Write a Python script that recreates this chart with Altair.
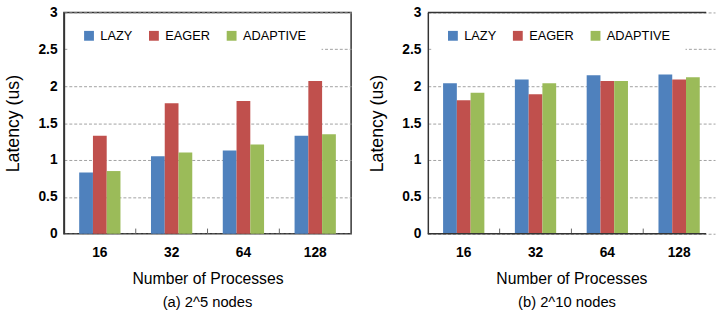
import altair as alt
import pandas as pd

processes = ["16", "32", "64", "128"]
series = ["LAZY", "EAGER", "ADAPTIVE"]
colors = ["#4F81BD", "#C0504D", "#9BBB59"]

# (a) 2^5 nodes
a_lazy = [0.83, 1.05, 1.13, 1.33]
a_eager = [1.33, 1.77, 1.80, 2.07]
a_adaptive = [0.85, 1.10, 1.21, 1.35]

# (b) 2^10 nodes
b_lazy = [2.04, 2.09, 2.15, 2.16]
b_eager = [1.81, 1.89, 2.07, 2.09]
b_adaptive = [1.91, 2.04, 2.07, 2.12]

y_ticks = [0, 0.5, 1, 1.5, 2, 2.5, 3]
border_levels = [0, 3]

FONT = "Liberation Sans"
BORDER = "#333333"


def make_df(lazy, eager, adaptive):
    rows = []
    for name, vals in zip(series, [lazy, eager, adaptive]):
        for p, v in zip(processes, vals):
            rows.append({"proc": p, "series": name, "latency": v})
    return pd.DataFrame(rows)


X_AXIS = alt.Axis(title="Number of Processes", labelAngle=0,
                  ticks=False, domain=False, labelPadding=12,
                  labelFont=FONT, labelFontSize=14, labelFontWeight="bold",
                  labelColor="#000", titleFont=FONT, titleFontSize=16,
                  titleFontWeight="normal", titleColor="#000",
                  titlePadding=12)
Y_AXIS = alt.Axis(title="Latency (us)", values=y_ticks, format=".2~f",
                  ticks=False, domain=True, domainColor=BORDER,
                  domainWidth=1.5, labelPadding=7,
                  grid=True, gridColor="#A0A0A0", gridDash=[3, 2],
                  gridWidth=1, labelOverlap=False,
                  labelFont=FONT, labelFontSize=14, labelFontWeight="bold",
                  labelColor="#000", titleFont=FONT, titleFontSize=18,
                  titleFontWeight="normal", titleColor="#000",
                  titlePadding=16)
X_SCALE = alt.Scale(paddingInner=0.425, paddingOuter=0.2125, range=[0, 292])
Y_SCALE = alt.Scale(domain=[0, 3], nice=False)


def panel(df, subtitle, width, full_border):
    base = alt.Chart(df)
    bars = base.mark_bar().encode(
        x=alt.X("proc:N", sort=processes, scale=X_SCALE, axis=X_AXIS),
        xOffset=alt.XOffset("series:N", sort=series),
        y=alt.Y("latency:Q", scale=Y_SCALE, axis=Y_AXIS),
        color=alt.Color("series:N", sort=series,
                        scale=alt.Scale(domain=series, range=colors),
                        legend=alt.Legend(title=None, orient="none", direction="horizontal",
                                          legendX=4, legendY=2, padding=15,
                                          fillColor="white", symbolType="square",
                                          symbolSize=100, symbolStrokeWidth=0,
                                          symbolOpacity=1, labelOffset=5,
                                          columnPadding=15, labelFont=FONT,
                                          labelFontSize=13, labelColor="#000")),
    )
    ticks = base.transform_filter(
        alt.datum.series == "LAZY"
    ).transform_filter(
        alt.datum.proc != "16"
    ).mark_rule(color="#666666", strokeWidth=1, xOffset=-15.5).encode(
        x=alt.X("proc:N", sort=processes, bandPosition=0, scale=X_SCALE, axis=X_AXIS),
        y=alt.Y(datum=0, scale=Y_SCALE, axis=Y_AXIS),
        y2=alt.datum(0.07),
    )
    frame = alt.Chart(pd.DataFrame({"level": border_levels})).mark_rule(
        color=BORDER, strokeWidth=1.5
    ).encode(
        y=alt.Y("level:Q", scale=Y_SCALE, axis=Y_AXIS),
    )
    layers = [bars, ticks]
    if not full_border:
        layers.append(frame)
    view = alt.ViewBackground(stroke=BORDER if full_border else "transparent",
                              strokeWidth=1.5)
    return alt.layer(*layers).properties(
        width=width, height=225, view=view,
        title=alt.TitleParams(subtitle, orient="bottom", font=FONT, fontSize=15,
                              fontWeight="normal", color="#000", offset=8),
    )


left = panel(make_df(a_lazy, a_eager, a_adaptive), "(a) 2^5 nodes", 292, True)
right = panel(make_df(b_lazy, b_eager, b_adaptive), "(b) 2^10 nodes", 283, False)

chart = alt.hconcat(left, right, spacing=15).resolve_legend(
    color="independent"
).configure(
    padding={"left": 3, "top": 2, "right": 0, "bottom": 5},
    background="white",
)

chart.save("out.html", embed_options={"renderer": "svg", "actions": False})
